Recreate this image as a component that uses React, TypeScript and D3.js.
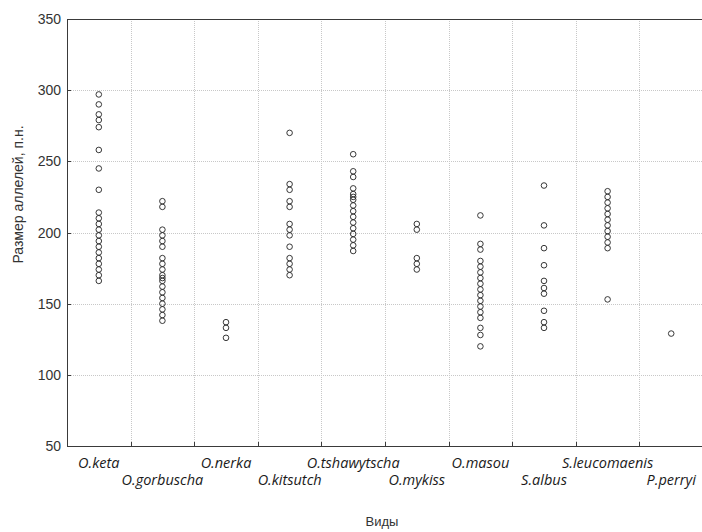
import * as d3 from 'd3';
import React from 'react';

// Species along the x axis
const species = [
  'O.keta', 'O.gorbuscha', 'O.nerka', 'O.kitsutch', 'O.tshawytscha',
  'O.mykiss', 'O.masou', 'S.albus', 'S.leucomaenis', 'P.perryi',
];

// Allele sizes (bp), one array per species
const ketaAlleles = [297, 290, 283, 279, 274, 258, 245, 230, 214, 210, 206, 202, 198, 194, 190, 186, 182, 178, 174, 170, 166];
const gorbuschaAlleles = [222, 218, 202, 198, 194, 190, 182, 178, 174, 170, 168, 166, 162, 158, 154, 150, 146, 142, 138];
const nerkaAlleles = [137, 133, 126];
const kitsutchAlleles = [270, 234, 230, 222, 218, 206, 202, 198, 190, 182, 178, 174, 170];
const tshawytschaAlleles = [255, 243, 239, 231, 227, 225, 223, 219, 215, 211, 207, 203, 199, 195, 191, 187];
const mykissAlleles = [206, 202, 182, 178, 174];
const masouAlleles = [212, 192, 188, 180, 176, 172, 168, 164, 160, 156, 152, 148, 144, 140, 133, 128, 120];
const albusAlleles = [233, 205, 189, 177, 166, 161, 157, 145, 137, 133];
const leucomaenisAlleles = [229, 225, 221, 217, 213, 209, 205, 201, 197, 193, 189, 153];
const perryiAlleles = [129];

const allelesBySpecies = [
  ketaAlleles, gorbuschaAlleles, nerkaAlleles, kitsutchAlleles, tshawytschaAlleles,
  mykissAlleles, masouAlleles, albusAlleles, leucomaenisAlleles, perryiAlleles,
];

const yTicks = [50, 100, 150, 200, 250, 300, 350];

const WIDTH = 702;
const HEIGHT = 532;
const margin = { top: 19, right: -1, bottom: 86, left: 67 };

const App: React.FC = () => {
  const x = d3.scaleBand<string>()
    .domain(species)
    .range([margin.left, WIDTH - margin.right])
    .padding(0);

  const y = d3.scaleLinear()
    .domain([50, 350])
    .range([HEIGHT - margin.bottom, margin.top]);

  const points = species.flatMap((sp, i) =>
    allelesBySpecies[i].map(v => ({ sp, v }))
  );

  const left = x.range()[0];
  const right = x.range()[1];
  const top = y(350);
  const bottom = y(50);
  // category boundaries for the vertical grid
  const bounds = species.slice(1).map(sp => x(sp)!);

  return (
    <svg
      width={WIDTH}
      height={HEIGHT}
      style={{ position: 'absolute', left: 0, top: 0, background: '#fff' }}
    >
      {/* grid */}
      <g stroke="#c8c8c8" strokeWidth={1} strokeDasharray="1,1">
        {yTicks.slice(1, -1).map(t => (
          <line key={`h${t}`} x1={left} x2={right} y1={Math.round(y(t)) + 0.5} y2={Math.round(y(t)) + 0.5} />
        ))}
        {bounds.map((b, i) => (
          <line key={`v${i}`} x1={Math.round(b) + 0.5} x2={Math.round(b) + 0.5} y1={top} y2={bottom} />
        ))}
      </g>

      {/* frame */}
      <g stroke="#3a3a3a" strokeWidth={1} fill="none">
        <line x1={left + 0.5} x2={left + 0.5} y1={top} y2={bottom + 0.5} />
        <line x1={left} x2={right} y1={Math.round(bottom) + 0.5} y2={Math.round(bottom) + 0.5} />
        <line x1={left} x2={right} y1={Math.round(top) + 0.5} y2={Math.round(top) + 0.5} />
        {yTicks.map(t => (
          <line key={`yt${t}`} x1={left} x2={left + 4} y1={Math.round(y(t)) + 0.5} y2={Math.round(y(t)) + 0.5} />
        ))}
        {bounds.map((b, i) => (
          <line key={`xt${i}`} x1={Math.round(b) + 0.5} x2={Math.round(b) + 0.5} y1={bottom - 4} y2={bottom} />
        ))}
      </g>

      {/* y tick labels */}
      <g fontFamily="'Liberation Sans', Arial, sans-serif" fontSize={14} fill="#333" textAnchor="end">
        {yTicks.map(t => (
          <text key={`yl${t}`} x={left - 6} y={y(t)} dy="0.36em">{t}</text>
        ))}
      </g>

      {/* category labels, staggered on two rows */}
      <g fontFamily="'Open Sans', sans-serif" fontStyle="italic" fontSize={14.5} fill="#1a1a1a" textAnchor="middle">
        {species.map((sp, i) => (
          <text key={sp} x={x(sp)! + x.bandwidth() / 2} y={i % 2 === 0 ? 468 : 485}>{sp}</text>
        ))}
      </g>

      {/* axis titles */}
      <text
        transform={`translate(23,${(top + bottom) / 2 - 38}) rotate(-90)`}
        textAnchor="middle"
        fontFamily="'Liberation Sans', Arial, sans-serif"
        fontSize={14}
        fill="#333"
      >
        Размер аллелей, п.н.
      </text>
      <text
        x={(left + right) / 2 - 3}
        y={526}
        textAnchor="middle"
        fontFamily="'Liberation Sans', Arial, sans-serif"
        fontSize={13}
        fill="#333"
      >
        Виды
      </text>

      {/* points */}
      <g fill="none" stroke="#222" strokeWidth={0.9}>
        {points.map((p, i) => (
          <circle key={i} cx={x(p.sp)! + x.bandwidth() / 2} cy={y(p.v)} r={2.8} />
        ))}
      </g>
    </svg>
  );
};

export default App;
